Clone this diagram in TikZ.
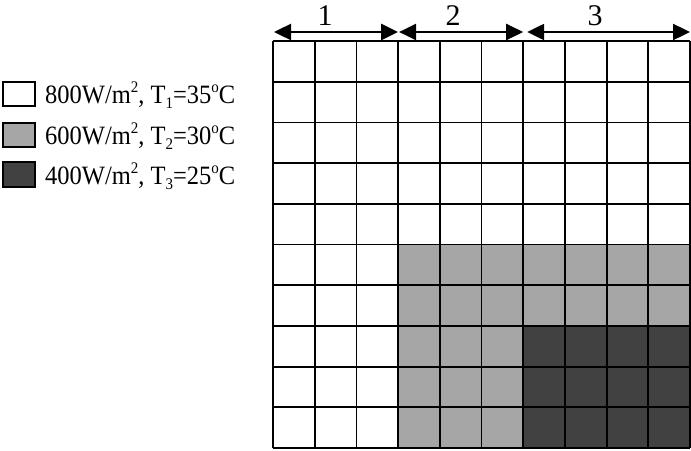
\documentclass[tikz,border=0pt]{standalone}
\usepackage{fontspec}
\setmainfont{Liberation Serif}
\usetikzlibrary{arrows.meta}
\definecolor{midgray}{HTML}{A6A6A6}
\definecolor{deepgray}{HTML}{414141}
\newcommand\mysup[1]{\raisebox{9.5pt}{\fontsize{15}{15}\selectfont #1}}
\newcommand\mysub[1]{\raisebox{-5pt}{\fontsize{15}{15}\selectfont #1}}
\newcommand\legline[3]{\scalebox{1}[1.08]{#1W/m\mysup{2}, T\mysub{#2}=#3\mysup{o}C}}
\begin{document}
\begin{tikzpicture}[x=1pt,y=-1pt,
  cellline/.style={line width=1.8pt, draw=black},
  legbox/.style={line width=1.8pt, draw=black},
  span/.style={line width=2.4pt, {Triangle[length=17pt,width=16pt]}-{Triangle[length=17pt,width=16pt]}},
  lbl/.style={font=\fontsize{30}{34}\selectfont, inner sep=0pt},
  legtext/.style={font=\fontsize{24.5}{30}\selectfont, inner sep=0pt, anchor=base west}]
\useasboundingbox (0,0) rectangle (691,450);
\def\cw{41.7}
\def\rh{40.7}
% filled regions
\fill[midgray] (273+3*\cw,41+5*\rh) rectangle (273+10*\cw,41+10*\rh);
\fill[deepgray] (273+6*\cw,41+7*\rh) rectangle (273+10*\cw,41+10*\rh);
% grid lines
\foreach \i in {0,...,10} {
  \draw[cellline] (273+\i*\cw,41) -- (273+\i*\cw,41+10*\rh);
  \draw[cellline] (273,41+\i*\rh) -- (273+10*\cw,41+\i*\rh);
}
% coordinates for arrows
\coordinate (a1l) at (274,32);
\coordinate (a1r) at (273+3*\cw,32);
\coordinate (a2l) at (274+3*\cw,32);
\coordinate (a2r) at (273+6*\cw,32);
\coordinate (a3l) at (277+6*\cw,32);
\coordinate (a3r) at (690,32);
\draw[span] (a1l) -- (a1r);
\draw[span] (a2l) -- (a2r);
\draw[span] (a3l) -- (a3r);
\node[lbl] (n1) at (325,15.5) {1};
\node[lbl] (n2) at (453,15.5) {2};
\node[lbl] (n3) at (595,15.5) {3};
% legend
\draw[legbox, fill=white] (3,82) rectangle (35,106);
\draw[legbox, fill=midgray] (3,123) rectangle (35,147);
\draw[legbox, fill=deepgray] (3,162) rectangle (35,187);
\node[legtext] (t1) at (45,103) {\legline{800}{1}{35}};
\node[legtext] (t2) at (45,144) {\legline{600}{2}{30}};
\node[legtext] (t3) at (45,184) {\legline{400}{3}{25}};
\end{tikzpicture}
\end{document}
